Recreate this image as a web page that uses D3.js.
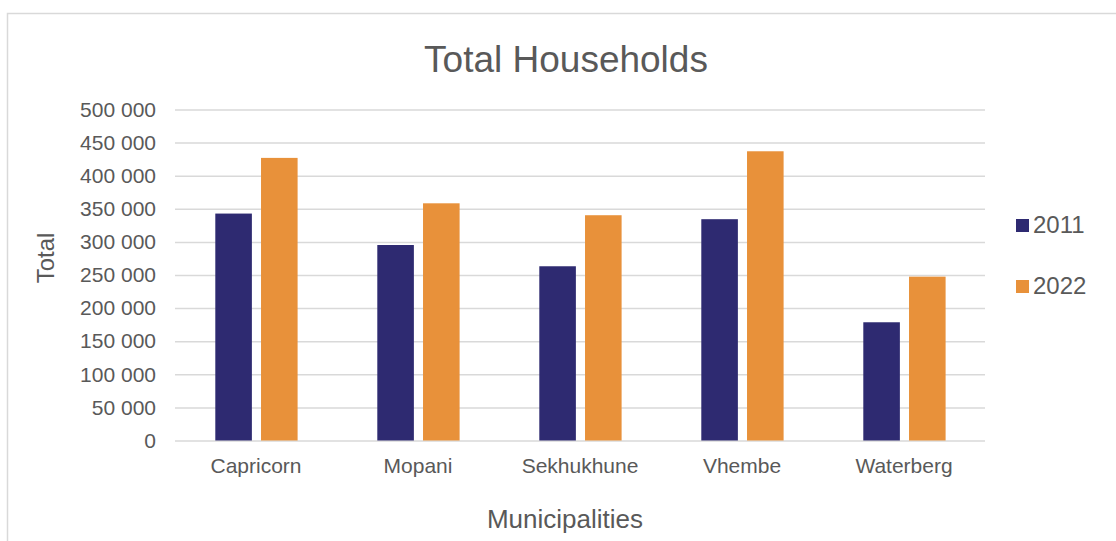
<!DOCTYPE html>
<html>
<head>
<meta charset="utf-8">
<script src="https://cdn.jsdelivr.net/npm/d3@7"></script>
<style>
  html, body { margin: 0; padding: 0; background: #ffffff; }
  svg { display: block; font-family: "Liberation Sans", Arial, sans-serif; }
</style>
</head>
<body>
<svg id="chart" width="1116" height="541"></svg>
<script>
// Households per district municipality, census 2011 vs 2022
const municipalities = ["Capricorn", "Mopani", "Sekhukhune", "Vhembe", "Waterberg"];
const seriesNames = ["2011", "2022"];
const households2011 = [342800, 295300, 263200, 334300, 178600];
const households2022 = [426900, 358300, 340300, 436900, 247500];
const yTicks = [0, 50000, 100000, 150000, 200000, 250000, 300000, 350000, 400000, 450000, 500000];
const seriesColors = ["#2e2a71", "#e8913a"];

const svg = d3.select("#chart");
const textColor = "#595959";
const gridColor = "#d9d9d9";

// Chart frame
svg.append("rect")
  .attr("x", 7.5).attr("y", 13.5)
  .attr("width", 1116).attr("height", 540)
  .attr("fill", "#ffffff")
  .attr("stroke", gridColor).attr("stroke-width", 1.5);

const plot = { left: 175, right: 985, top: 109.5, bottom: 440.5 };

const x0 = d3.scaleBand()
  .domain(municipalities)
  .range([plot.left, plot.right])
  .padding(0);

const x1 = d3.scaleBand()
  .domain(seriesNames)
  .range([40.3, 122.6])
  .paddingInner(0.2)
  .paddingOuter(0);

const y = d3.scaleLinear()
  .domain([0, 500000])
  .range([plot.bottom, plot.top]);

const fmt = d3.formatLocale({ decimal: ".", thousands: " ", grouping: [3], currency: ["", ""] }).format(",d");

// Gridlines and value labels
const yAxis = d3.axisLeft(y)
  .tickValues(yTicks)
  .tickFormat(fmt)
  .tickSize(-(plot.right - plot.left))
  .tickPadding(19);

const gy = svg.append("g")
  .attr("transform", `translate(${plot.left},0)`)
  .call(yAxis);
gy.select(".domain").remove();
gy.selectAll(".tick line")
  .attr("stroke", gridColor)
  .attr("stroke-width", 1.5);
gy.selectAll(".tick text")
  .attr("fill", textColor)
  .attr("font-size", 21)
  .attr("font-family", "Liberation Sans, Arial, sans-serif");

// Bars
const rows = municipalities.map((m, i) => ({
  name: m,
  values: [households2011[i], households2022[i]]
}));

const groups = svg.append("g")
  .selectAll("g")
  .data(rows)
  .join("g")
  .attr("transform", d => `translate(${x0(d.name)},0)`);

groups.selectAll("rect")
  .data(d => d.values.map((v, j) => ({ series: seriesNames[j], value: v, color: seriesColors[j] })))
  .join("rect")
  .attr("x", d => x1(d.series))
  .attr("width", x1.bandwidth())
  .attr("y", d => y(d.value))
  .attr("height", d => y(0) - y(d.value))
  .attr("fill", d => d.color);

// Category labels
const xAxis = d3.axisBottom(x0).tickSize(0).tickPadding(18);
const gx = svg.append("g")
  .attr("transform", `translate(0,${plot.bottom})`)
  .call(xAxis);
gx.select(".domain").remove();
gx.selectAll(".tick text")
  .attr("fill", textColor)
  .attr("font-size", 21)
  .attr("font-family", "Liberation Sans, Arial, sans-serif");

// Title
svg.append("text")
  .attr("x", 566).attr("y", 71.5)
  .attr("text-anchor", "middle")
  .attr("fill", textColor)
  .attr("font-size", 37)
  .text("Total Households");

// Axis titles
svg.append("text")
  .attr("transform", "translate(54,258) rotate(-90)")
  .attr("text-anchor", "middle")
  .attr("fill", textColor)
  .attr("font-size", 24)
  .text("Total");

svg.append("text")
  .attr("x", 565).attr("y", 528)
  .attr("text-anchor", "middle")
  .attr("fill", textColor)
  .attr("font-size", 26)
  .text("Municipalities");

// Legend
const legend = svg.append("g")
  .selectAll("g")
  .data(seriesNames)
  .join("g")
  .attr("transform", (d, i) => `translate(1016,${219 + i * 61})`);

legend.append("rect")
  .attr("width", 13).attr("height", 13)
  .attr("fill", (d, i) => seriesColors[i]);

legend.append("text")
  .attr("x", 17).attr("y", 14)
  .attr("fill", textColor)
  .attr("font-size", 24)
  .text(d => d);
</script>
</body>
</html>
